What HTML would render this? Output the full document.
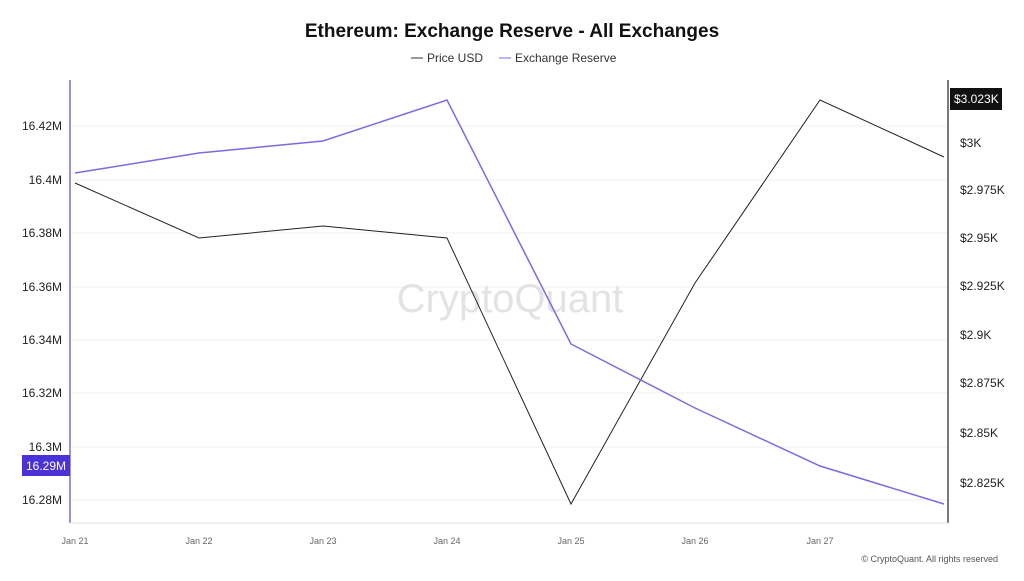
<!DOCTYPE html>
<html><head><meta charset="utf-8"><style>
body{margin:0;background:#fff;width:1024px;height:576px;overflow:hidden;font-family:"Liberation Sans",sans-serif}
</style></head><body>
<svg width="1024" height="576" xmlns="http://www.w3.org/2000/svg" font-family="Liberation Sans, sans-serif">
<text x="512" y="37" text-anchor="middle" font-size="19" font-weight="bold" fill="#111">Ethereum: Exchange Reserve - All Exchanges</text>
<line x1="411" y1="58" x2="423" y2="58" stroke="#333"/>
<text x="427" y="62" font-size="12" fill="#333">Price USD</text>
<line x1="499" y1="58" x2="511" y2="58" stroke="#7b6be0"/>
<text x="515" y="62" font-size="12" fill="#333">Exchange Reserve</text>
<g stroke="#f2f2f2">
<line x1="70" y1="126" x2="948" y2="126"/><line x1="70" y1="180" x2="948" y2="180"/><line x1="70" y1="233" x2="948" y2="233"/><line x1="70" y1="287" x2="948" y2="287"/><line x1="70" y1="340" x2="948" y2="340"/><line x1="70" y1="393" x2="948" y2="393"/><line x1="70" y1="447" x2="948" y2="447"/><line x1="70" y1="500" x2="948" y2="500"/>
</g>
<text x="510" y="312" text-anchor="middle" font-size="40" fill="#e3e3e6">CryptoQuant</text>
<line x1="70" y1="80" x2="70" y2="523" stroke="#7b6be0" stroke-width="1.5"/>
<line x1="948" y1="80" x2="948" y2="523" stroke="#222" stroke-width="1.2"/>
<line x1="70" y1="523" x2="948" y2="523" stroke="#e0e0e0"/>
<g font-size="12" fill="#222" text-anchor="end">
<text x="62" y="130">16.42M</text><text x="62" y="184">16.4M</text><text x="62" y="237">16.38M</text><text x="62" y="291">16.36M</text><text x="62" y="344">16.34M</text><text x="62" y="397">16.32M</text><text x="62" y="451">16.3M</text><text x="62" y="504">16.28M</text>
</g>
<rect x="22" y="455" width="48" height="21" fill="#4b32d6"/>
<text x="46" y="470" text-anchor="middle" font-size="12" fill="#fff">16.29M</text>
<g font-size="12" fill="#222">
<text x="960" y="147">$3K</text><text x="960" y="194">$2.975K</text><text x="960" y="242">$2.95K</text><text x="960" y="290">$2.925K</text><text x="960" y="339">$2.9K</text><text x="960" y="387">$2.875K</text><text x="960" y="437">$2.85K</text><text x="960" y="487">$2.825K</text>
</g>
<rect x="950" y="88" width="52" height="22" fill="#111"/>
<text x="954" y="103" font-size="12" fill="#fff">$3.023K</text>
<g font-size="9" fill="#666" text-anchor="middle">
<text x="75" y="544">Jan 21</text><text x="199" y="544">Jan 22</text><text x="323" y="544">Jan 23</text><text x="447" y="544">Jan 24</text><text x="571" y="544">Jan 25</text><text x="695" y="544">Jan 26</text><text x="820" y="544">Jan 27</text>
</g>
<polyline fill="none" stroke="#222" stroke-width="1" points="75,183 199,238 323,226 447,238 571,504 695,283 820,100 944,157"/>
<polyline fill="none" stroke="#7b6be0" stroke-width="1.5" points="75,173 199,153 323,141 447,100 571,344 695,408 820,466 944,504"/>
<text x="998" y="562" text-anchor="end" font-size="9" fill="#555">© CryptoQuant. All rights reserved</text>
</svg>
</body></html>
